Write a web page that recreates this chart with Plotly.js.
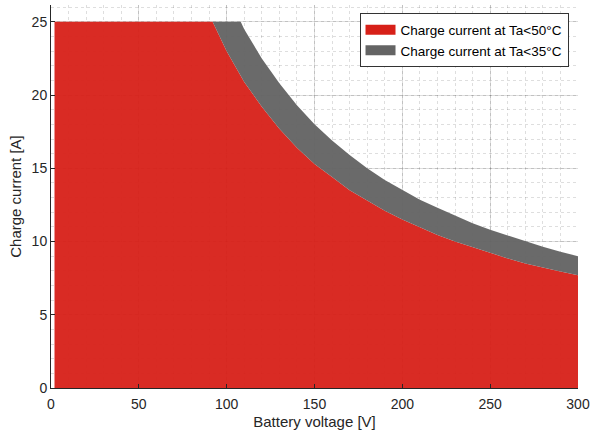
<!DOCTYPE html>
<html>
<head>
<meta charset="utf-8">
<script src="https://cdn.plot.ly/plotly-3.0.1.min.js"></script>
<style>html,body{margin:0;padding:0;background:#fff}#chart{width:593px;height:436px}</style>
</head>
<body>
<div id="chart"></div>
<script>
const voltage = [2, 92, 100, 108, 110, 120, 130, 140, 150, 160, 170, 180, 190, 200, 210, 220, 230, 240, 250, 260, 270, 280, 290, 300];
const current50 = [25, 25, 23.0, 21.3, 20.9, 19.2, 17.7, 16.4, 15.3, 14.4, 13.5, 12.8, 12.1, 11.5, 10.95, 10.45, 10.0, 9.6, 9.2, 8.85, 8.5, 8.2, 7.95, 7.7];
const current35 = [25, 25, 25, 25, 24.5, 22.5, 20.8, 19.3, 18.0, 16.9, 15.9, 15.0, 14.2, 13.5, 12.85, 12.3, 11.75, 11.25, 10.8, 10.4, 10.0, 9.65, 9.3, 9.0];
const seriesNames = ['Charge current at Ta<50°C', 'Charge current at Ta<35°C'];
const xTicks = [0, 50, 100, 150, 200, 250, 300];
const yTicks = [0, 5, 10, 15, 20, 25];

const red = 'rgb(215,32,24)';
const gray = 'rgb(100,100,100)';

const traces = [
  {x: voltage, y: current50, type: 'scatter', mode: 'lines', fill: 'tozeroy', name: seriesNames[0], showlegend: false,
   line: {width: 0, color: red}, fillcolor: 'rgba(215,32,24,0.95)', hoverinfo: 'skip'},
  {x: voltage, y: current35, type: 'scatter', mode: 'lines', fill: 'tonexty', name: seriesNames[1], showlegend: false,
   line: {width: 0, color: gray}, fillcolor: 'rgba(100,100,100,0.96)', hoverinfo: 'skip'},
  // legend entries (no data of their own)
  {x: [null], y: [null], type: 'scatter', mode: 'lines', name: seriesNames[0], line: {width: 12, color: red}},
  {x: [null], y: [null], type: 'scatter', mode: 'lines', name: seriesNames[1], line: {width: 12, color: gray}}
];

const fam = 'Liberation Sans, Arial, sans-serif';
const txt = '#262626';
const layout = {
  width: 593, height: 436,
  margin: {l: 51, r: 15, t: 5, b: 48},
  paper_bgcolor: '#fff', plot_bgcolor: '#fff',
  font: {family: fam, size: 14, color: txt},
  showlegend: true,
  legend: {x: 0.982, y: 0.978, xanchor: 'right', yanchor: 'top', bgcolor: '#fff',
           bordercolor: '#333', borderwidth: 1, font: {family: fam, size: 13.5, color: '#000'},
           traceorder: 'normal', itemwidth: 30, tracegroupgap: 0},
  xaxis: {range: [0, 300], tickvals: xTicks, ticktext: xTicks.map(String), showgrid: true,
          gridcolor: 'rgba(0,0,0,0.13)', gridwidth: 1, zeroline: false, showline: true, linecolor: txt,
          ticks: 'inside', ticklen: 4, tickcolor: txt, layer: 'above traces', ticklabelstandoff: 3,
          minor: {dtick: 10, showgrid: true, griddash: 'dot', gridcolor: 'rgba(0,0,0,0.13)', gridwidth: 1},
          title: {text: 'Battery voltage [V]', font: {family: fam, size: 15, color: txt}, standoff: 5},
          tickfont: {family: fam, size: 14, color: txt}},
  yaxis: {range: [0, 26.15], tickvals: yTicks, ticktext: yTicks.map(String), showgrid: true,
          gridcolor: 'rgba(0,0,0,0.13)', gridwidth: 1, zeroline: false, showline: true, linecolor: txt,
          ticks: 'inside', ticklen: 4, tickcolor: txt, layer: 'above traces',
          minor: {dtick: 1, showgrid: true, griddash: 'dot', gridcolor: 'rgba(0,0,0,0.13)', gridwidth: 1},
          title: {text: 'Charge current [A]', font: {family: fam, size: 15, color: txt}, standoff: 6},
          tickfont: {family: fam, size: 14, color: txt}}
};

Plotly.newPlot('chart', traces, layout, {displayModeBar: false, staticPlot: true});
</script>
</body>
</html>
